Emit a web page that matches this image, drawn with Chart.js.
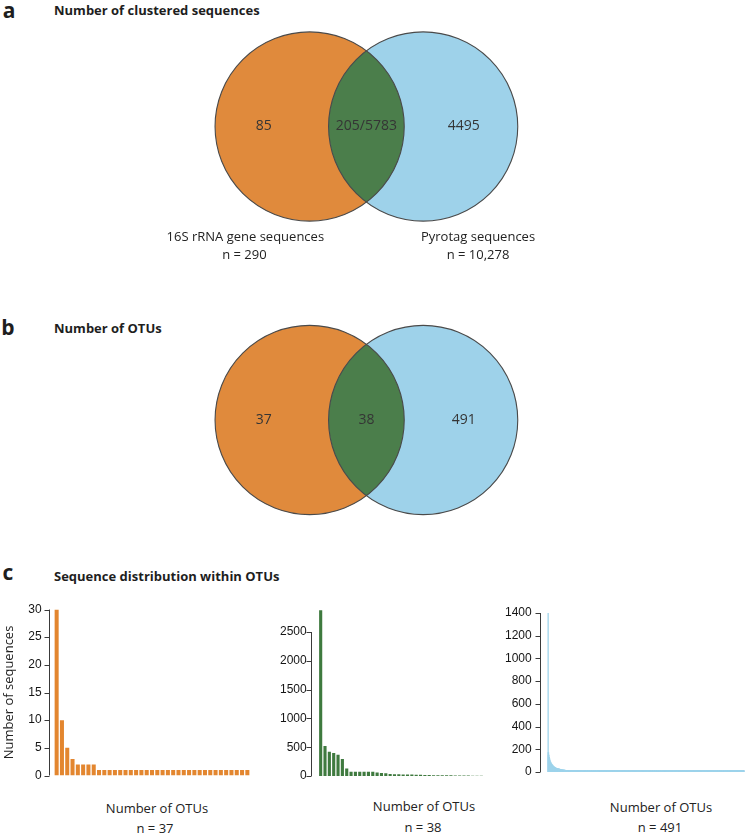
<!DOCTYPE html>
<html><head><meta charset="utf-8">
<script src="https://cdn.jsdelivr.net/npm/chart.js@4.4.1/dist/chart.umd.min.js"></script>
<style>
html,body{margin:0;padding:0;background:#fff;}
#wrap{position:relative;width:746px;height:833px;overflow:hidden;font-family:"Open Sans",sans-serif;color:#1e1e1e;}
canvas{display:block;position:absolute;}
.t{position:absolute;white-space:nowrap;line-height:1;}
.letter{font-weight:700;font-size:21px;transform:translate(-50%,-50%);}
.ttl{font-weight:700;font-size:13px;transform:translateY(-50%);}
.xt{font-size:13px;transform:translate(-50%,-50%);color:#222;}
</style></head>
<body>
<div id="wrap">
  <div class="t letter" style="left:9px;top:10px">a</div>
  <div class="t ttl" style="left:54px;top:10px">Number of clustered sequences</div>
  <canvas id="vennA" width="746" height="250" style="left:0;top:20px"></canvas>

  <div class="t letter" style="left:8px;top:327px">b</div>
  <div class="t ttl" style="left:54px;top:328px">Number of OTUs</div>
  <canvas id="vennB" width="746" height="230" style="left:0;top:310px"></canvas>

  <div class="t letter" style="left:8px;top:572px">c</div>
  <div class="t ttl" style="left:54px;top:576px">Sequence distribution within OTUs</div>
  <canvas id="barO" width="256" height="205" style="left:0;top:590px"></canvas>
  <canvas id="barG" width="234" height="205" style="left:256px;top:590px"></canvas>
  <canvas id="barB" width="256" height="205" style="left:490px;top:590px"></canvas>

  <div class="t xt" style="left:157px;top:808px">Number of OTUs</div>
  <div class="t xt" style="left:155px;top:828px">n = 37</div>
  <div class="t xt" style="left:424px;top:806px">Number of OTUs</div>
  <div class="t xt" style="left:423px;top:827px">n = 38</div>
  <div class="t xt" style="left:661px;top:807px">Number of OTUs</div>
  <div class="t xt" style="left:660px;top:827px">n = 491</div>
</div>
<script>
// ---------------- DATA ----------------
const vennSetNames = ['16S rRNA gene sequences', 'Pyrotag sequences'];
const vennSetSizes = ['n = 290', 'n = 10,278'];
const vennARegionLabels = ['85', '205/5783', '4495'];
const vennBRegionLabels = ['37', '38', '491'];

const orangeValues = [30,10,5,3,2,2,2,2,
  1,1,1,1,1,1,1,1,1,1,1,1,1,1,1,1,1,1,1,1,1,1,1,1,1,1,1,1,1];
const greenValues = [2880,520,420,400,370,296,130,75,75,75,75,75,72,62,50,48,35,32,30,28,
  26,24,22,20,18,16,15,14,13,12,11,10,9,8,7,6,5,4];
const blueValues = [1400,170,150,130,115,100,90,82,75,70,65,60,56,52,49,46,43,41,39,37,35,
  33,32,31,30,29,28,27,26,25,24,23,22,21,20,19,19,18,18,17,17,16,16,15,15,14,14,13,13,12,12,
  10,10,10,10,10,9,9,9,9,9,8,8,8,8,8,7,7,7,7,7,6,6,6,6,6,6,6,6,6,6,
  5,5,5,5,5,5,5,5,5,5,5,5,5,5,5,5,5,5,5,5,
  4,4,4,4,4,4,4,4,4,4,4,4,4,4,4,4,4,4,4,4,
  4,4,4,4,4,
  3,3,3,3,3,3,3,3,3,3,3,3,3,3,3,3,3,3,3,3,
  3,3,3,3,3,3,3,3,3,3,3,3,3,3,3,3,3,3,3,3,
  3,3,3,3,3,
  2,2,2,2,2,2,2,2,2,2,2,2,2,2,2,2,2,2,2,2,
  2,2,2,2,2,2,2,2,2,2,2,2,2,2,2,2,2,2,2,2,
  2,2,2,2,2,2,2,2,2,2,2,2,2,2,2,2,2,2,2,2,
  2,2,2,2,2,2,2,2,2,2,2,2,2,2,2,2,2,2,2,2,
  2,2,2,2,2,2,
  1,1,1,1,1,1,1,1,1,1,1,1,1,1,1,1,1,1,1,1,
  1,1,1,1,1,1,1,1,1,1,1,1,1,1,1,1,1,1,1,1,
  1,1,1,1,1,1,1,1,1,1,1,1,1,1,1,1,1,1,1,1,
  1,1,1,1,1,1,1,1,1,1,1,1,1,1,1,1,1,1,1,1,
  1,1,1,1,1,1,1,1,1,1,1,1,1,1,1,1,1,1,1,1,
  1,1,1,1,1,1,1,1,1,1,1,1,1,1,1,1,1,1,1,1,
  1,1,1,1,1,1,1,1,1,1,1,1,1,1,1,1,1,1,1,1,
  1,1,1,1,1,1,1,1,1,1,1,1,1,1,1,1,1,1,1,1,
  1,1,1,1,1,1,1,1,1,1,1,1,1,1,1,1,1,1,1,1,
  1,1,1,1,1,1,1,1,1,1,1,1,1,1,1,1,1,1,1,1,
  1,1,1,1,1,1,1,1,1,1,1,1,1,1,1,1,1,1,1,1,
  1,1,1,1,1,1,1,1,1,1,1,1,1,1];
const orangeTicks = [0,5,10,15,20,25,30];
const greenTicks = [0,500,1000,1500,2000,2500];
const blueTicks = [0,200,400,600,800,1000,1200,1400];
const yAxisTitle = 'Number of sequences';

// ---------------- STYLE ----------------
const ORANGE = '#e08a3c', GREEN = '#4b7e4b', BLUE = '#9ed2ea';
const BAR_ORANGE = '#e3862f', BAR_GREEN = '#3f7a3f', BAR_BLUE = '#9dd3eb';
Chart.defaults.animation = false;
Chart.defaults.devicePixelRatio = 1;

// ---------------- VENN ----------------
const vennPlugin = {
  id: 'venn',
  beforeDatasetsDraw(chart, args, o) {
    const {x, y} = chart.scales, ctx = chart.ctx;
    const r = x.getPixelForValue(o.r) - x.getPixelForValue(0);
    const cy = y.getPixelForValue(0);
    const c1 = x.getPixelForValue(-o.d), c2 = x.getPixelForValue(o.d);
    const circ = (cx) => { ctx.beginPath(); ctx.arc(cx, cy, r, 0, Math.PI * 2); };
    ctx.save();
    ctx.fillStyle = ORANGE; circ(c1); ctx.fill();
    ctx.fillStyle = BLUE; circ(c2); ctx.fill();
    ctx.save(); circ(c1); ctx.clip(); ctx.fillStyle = GREEN; circ(c2); ctx.fill(); ctx.restore();
    ctx.strokeStyle = '#4a4a4a'; ctx.lineWidth = 1.1;
    circ(c1); ctx.stroke(); circ(c2); ctx.stroke();
    ctx.restore();
  },
  afterDatasetsDraw(chart, args, o) {
    const ctx = chart.ctx;
    ctx.save();
    ctx.textAlign = 'center'; ctx.textBaseline = 'middle';
    chart.data.datasets.forEach((ds, di) => {
      const meta = chart.getDatasetMeta(di);
      ctx.font = ds.labelFont; ctx.fillStyle = ds.labelColor;
      meta.data.forEach((pt, i) => ctx.fillText(ds.labels[i], pt.x, pt.y));
    });
    ctx.restore();
  }
};

function makeVenn(id, regionLabels, withSets, canvasH, centerRel) {
  const unit = 94.6, cx = 366.4, W = 746;
  const datasets = [{
    data: [{x: -1.086, y: 0}, {x: 0, y: 0}, {x: 1.03, y: 0}],
    labels: regionLabels, labelFont: '14px "Open Sans"', labelColor: '#353535',
    pointRadius: 0
  }];
  if (withSets) {
    datasets.push({
      data: [{x: -1.28, y: -1.168}, {x: 1.18, y: -1.168}, {x: -1.29, y: -1.358}, {x: 1.18, y: -1.358}],
      labels: [vennSetNames[0], vennSetNames[1], vennSetSizes[0], vennSetSizes[1]],
      labelFont: '13px "Open Sans"', labelColor: '#222', pointRadius: 0
    });
  }
  new Chart(document.getElementById(id), {
    type: 'scatter',
    data: {datasets},
    options: {
      responsive: false,
      layout: {padding: 0},
      events: [],
      scales: {
        x: {type: 'linear', display: false, min: -cx / unit, max: (W - cx) / unit},
        y: {type: 'linear', display: false, min: -(canvasH - centerRel) / unit, max: centerRel / unit}
      },
      plugins: {legend: {display: false}, tooltip: {enabled: false}, venn: {r: 1, d: 0.6}}
    },
    plugins: [vennPlugin]
  });
}
makeVenn('vennA', vennARegionLabels, true, 250, 106.5);
makeVenn('vennB', vennBRegionLabels, false, 230, 110);

// ---------------- BARS ----------------
const rAxisPlugin = {
  id: 'rAxis',
  afterDraw(chart, args, o) {
    const y = chart.scales.y, ctx = chart.ctx;
    const vals = y.ticks.map(t => t.value);
    const xs = Math.round(chart.chartArea.left - o.gap) + 0.5;
    ctx.save();
    ctx.strokeStyle = '#3a3a3a'; ctx.lineWidth = 1;
    ctx.beginPath();
    ctx.moveTo(xs, y.getPixelForValue(Math.max(...vals)));
    ctx.lineTo(xs, y.getPixelForValue(Math.min(...vals)));
    vals.forEach(v => {
      const py = Math.round(y.getPixelForValue(v)) + 0.5;
      ctx.moveTo(xs - o.len, py); ctx.lineTo(xs, py);
    });
    ctx.stroke();
    ctx.restore();
  }
};

function makeBar(id, values, ticks, color, cfg) {
  const yScale = {
    min: 0, max: cfg.max,
    afterBuildTicks: (s) => { s.ticks = ticks.map(v => ({value: v})); },
    afterFit: (s) => { s.width = cfg.yWidth; },
    grid: {display: false, drawTicks: false},
    border: {display: false},
    ticks: {padding: cfg.labelPad, color: '#151515', callback: (v) => String(v),
      font: {family: '"Liberation Sans", Arial, sans-serif', size: 12}}
  };
  if (cfg.title) {
    yScale.title = {display: true, text: cfg.title, color: '#222', padding: {top: 1.5, bottom: 0},
      font: {family: '"Open Sans"', size: 13, lineHeight: 1.2}};
  }
  const ds = {data: values, backgroundColor: color, borderWidth: 0,
    categoryPercentage: 1, barPercentage: cfg.barPct};
  if (cfg.thickness) ds.barThickness = cfg.thickness;
  if (cfg.minLen) ds.minBarLength = cfg.minLen;
  new Chart(document.getElementById(id), {
    type: 'bar',
    data: {labels: values.map((_, i) => i + 1), datasets: [ds]},
    options: {
      responsive: false,
      events: [],
      layout: {padding: cfg.pad},
      scales: {x: {display: false, offset: true}, y: yScale},
      plugins: {legend: {display: false}, tooltip: {enabled: false}, rAxis: {gap: cfg.gap, len: 5}}
    },
    plugins: [rAxisPlugin]
  });
}

makeBar('barO', orangeValues, orangeTicks, BAR_ORANGE, {
  max: 30, yWidth: 54, labelPad: 12.3, barPct: 0.76, gap: 4.7, title: yAxisTitle,
  pad: {left: 0, right: 6, top: 14, bottom: 6}
});
makeBar('barG', greenValues, greenTicks, BAR_GREEN, {
  max: 2900, yWidth: 62.5, labelPad: 11.8, barPct: 0.72, gap: 7.5,
  pad: {left: 0, right: 6.5, top: 8.2, bottom: 7.7}
});
makeBar('barB', blueValues, blueTicks, BAR_BLUE, {
  max: 1400, yWidth: 57.5, labelPad: 15.8, barPct: 1, gap: 7.5, thickness: 1.5, minLen: 1.5,
  pad: {left: 0, right: 1.5, top: 14, bottom: 6}
});
</script>
</body></html>
